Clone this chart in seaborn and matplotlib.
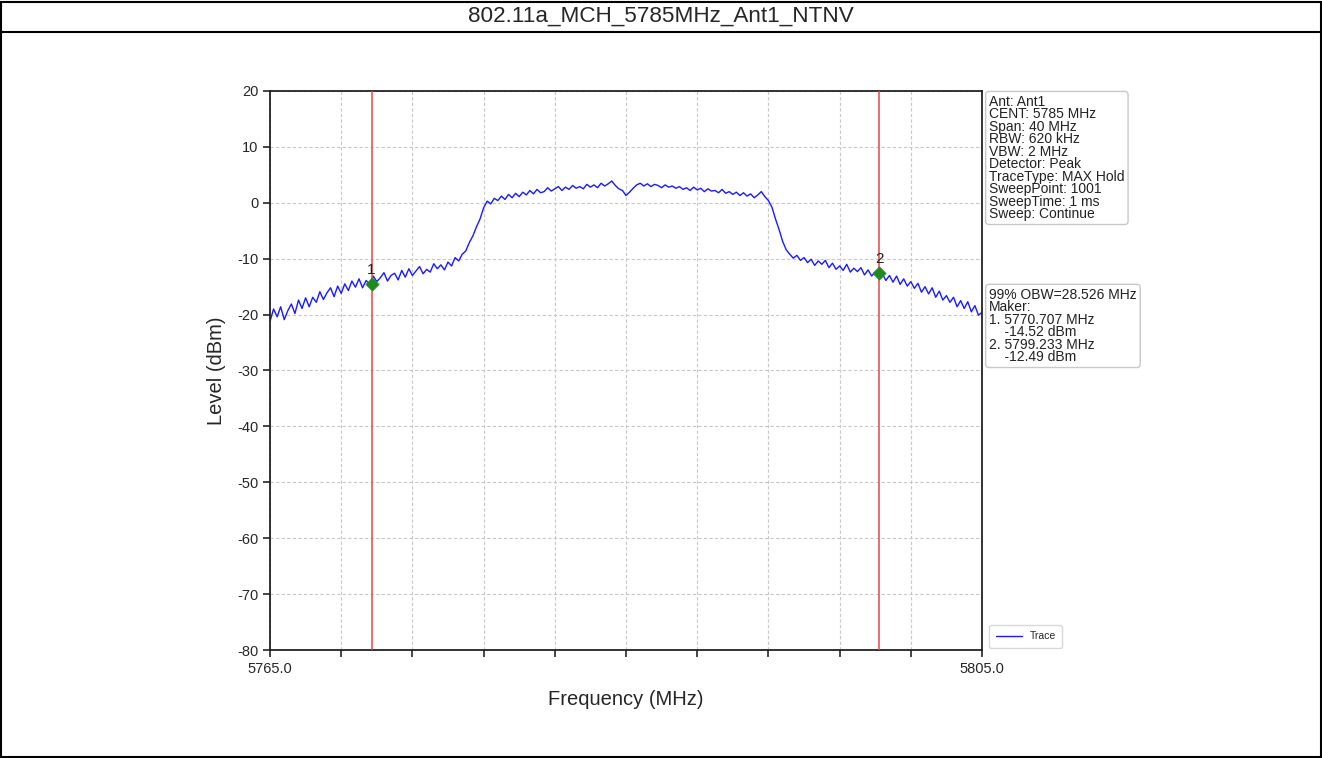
import numpy as np
import pandas as pd
import matplotlib
matplotlib.use("Agg")
import matplotlib.pyplot as plt
from matplotlib.patches import Rectangle
from matplotlib.lines import Line2D
import seaborn as sns

# Spectrum trace: start frequency, step and level readings (dBm)
start_mhz = 5765.0
step_mhz = 0.2
levels = [
    -21.2, -19.0, -20.4, -18.6, -20.9,   -19.3, -18.1, -19.8, -17.4, -18.9,
    -17.0, -18.6, -16.9, -17.8, -15.9,   -17.3, -16.1, -15.2, -16.8, -14.9,
    -16.2, -14.5, -15.7, -14.0, -15.1,   -13.6, -15.2, -13.9, -14.6, -13.1,
    -14.1, -13.4, -12.5, -14.0, -13.0,   -12.6, -13.8, -12.1, -13.3, -11.8,
    -13.0, -12.2, -11.4, -12.7, -11.9,   -12.4, -10.9, -11.8, -11.1, -12.0,
    -10.6, -11.3, -9.8, -10.4, -9.2,     -8.6, -7.1, -5.9, -4.3, -2.9,
    -0.9, 0.3, -0.2, 0.8, 0.4,           1.2, 0.6, 1.5, 0.9, 1.7,
    1.1, 1.9, 1.4, 2.2, 1.6,             2.4, 1.8, 2.0, 2.7, 2.1,
    2.5, 2.9, 2.2, 2.8, 2.4,             3.1, 2.6, 2.9, 2.5, 3.3,
    2.8, 3.2, 2.7, 3.5, 3.0,             3.4, 3.9, 3.1, 2.5, 2.2,
    1.3, 1.9, 2.6, 3.2, 3.5,             3.0, 3.4, 2.9, 3.3, 3.1,
    2.7, 3.2, 2.8, 3.0, 2.6,             2.9, 2.4, 2.7, 2.2, 2.8,
    2.3, 2.6, 2.0, 2.5, 2.1,             2.2, 1.8, 2.4, 1.7, 2.0,
    1.5, 1.9, 1.3, 1.8, 1.2,             1.6, 0.9, 1.4, 2.0, 1.1,
    0.4, -0.8, -2.9, -4.8, -6.9,         -8.4, -9.2, -9.9, -9.4, -10.3,
    -9.8, -10.7, -10.1, -11.2, -10.4,    -11.0, -10.3, -11.6, -10.8, -11.9,
    -11.3, -12.1, -11.0, -12.4, -11.7,   -12.3, -11.6, -12.9, -12.0, -13.1,
    -12.4, -13.3, -12.7, -13.9, -13.0,   -14.2, -13.1, -14.6, -13.6, -14.9,
    -14.1, -15.3, -14.4, -16.0, -15.0,   -16.3, -15.2, -16.9, -15.8, -17.4,
    -16.6, -17.8, -16.9, -18.6, -17.5,   -18.9, -17.7, -19.5, -18.4, -20.1,
    -19.6,
]
freqs = [start_mhz + i * step_mhz for i in range(len(levels))]

# OBW markers
marker_ids = ["1", "2"]
marker_freqs = [5770.707, 5799.233]
marker_levels = [-14.52, -12.49]

title = "802.11a_MCH_5785MHz_Ant1_NTNV"
settings_text = [
    "Ant: Ant1", "CENT: 5785 MHz", "Span: 40 MHz", "RBW: 620 kHz",
    "VBW: 2 MHz", "Detector: Peak", "TraceType: MAX Hold",
    "SweepPoint: 1001", "SweepTime: 1 ms", "Sweep: Continue",
]
obw_text = [
    "99% OBW=28.526 MHz", "Maker:",
    "1. 5770.707 MHz", "    -14.52 dBm",
    "2. 5799.233 MHz", "    -12.49 dBm",
]

sns.set_style("white")
plt.rcParams["font.family"] = ["Liberation Sans", "DejaVu Sans"]
plt.rcParams["axes.unicode_minus"] = False

fig = plt.figure(figsize=(13.22, 7.58), dpi=100)
ax = fig.add_axes([270 / 1322, 1 - 650 / 758, 712 / 1322, 559 / 758])

trace = pd.DataFrame({"Frequency": freqs, "Level": levels})
sns.lineplot(data=trace, x="Frequency", y="Level", ax=ax, color="#1a1aff",
             linewidth=1.0, label="Trace")

for mf in marker_freqs:
    ax.axvline(mf, color="#e8454a", linewidth=1.1, zorder=3)

mk = pd.DataFrame({"f": marker_freqs, "lv": marker_levels})
sns.scatterplot(data=mk, x="f", y="lv", ax=ax, marker="D", color="#1f8a1f",
                s=45, edgecolor="#1f8a1f", zorder=5, legend=False)
for mid, mf, ml in zip(marker_ids, marker_freqs, marker_levels):
    ax.text(mf, ml + 1.2, mid, ha="center", va="bottom", fontsize=11,
            color="#222222", zorder=6)

ax.set_xlim(5765, 5805)
ax.set_ylim(-80, 20)
xt = np.arange(5765, 5806, 4)
ax.set_xticks(xt)
ax.set_xticklabels(["5765.0"] + [""] * (len(xt) - 2) + ["5805.0"], fontsize=10.5)
ax.set_yticks(np.arange(-80, 21, 10))
ax.tick_params(axis="y", labelsize=10.5, direction="out", length=5, width=1.2, left=True)
ax.tick_params(axis="x", direction="out", length=5, width=1.2, bottom=True)
ax.grid(True, color="#c8c8c8", linestyle=(0, (3, 2)), linewidth=0.8)
for sp in ax.spines.values():
    sp.set_color("#222222")
    sp.set_linewidth(1.3)
ax.set_xlabel("Frequency (MHz)", fontsize=14.5, labelpad=10)
ax.set_ylabel("Level (dBm)", fontsize=14.5, labelpad=8)

box = dict(boxstyle="round,pad=0.25", facecolor="white", edgecolor="#c8c8c8",
           linewidth=1.0)
ax.text(1.01, 0.993, "\n".join(settings_text), transform=ax.transAxes,
        ha="left", va="top", fontsize=10, linespacing=0.86, bbox=box, color="#222222")
ax.text(1.01, 0.648, "\n".join(obw_text), transform=ax.transAxes,
        ha="left", va="top", fontsize=10, linespacing=0.86, bbox=box, color="#222222")

leg = ax.legend(loc="lower left", bbox_to_anchor=(1.003, -0.005), fontsize=7.5,
                frameon=True, handlelength=2.5, borderpad=0.6)
leg.get_frame().set_edgecolor("#d0d0d0")

# Page frame and title band
fig.add_artist(Rectangle((0.001, 0.001), 0.998, 0.997, transform=fig.transFigure,
                         fill=False, edgecolor="black", linewidth=1.5))
fig.add_artist(Line2D([0, 1], [1 - 32 / 758, 1 - 32 / 758], transform=fig.transFigure,
                      color="black", linewidth=1.5))
fig.text(0.5, 1 - 16 / 758, title, ha="center", va="center", fontsize=16.2)

fig.savefig("out.png", dpi=100)
